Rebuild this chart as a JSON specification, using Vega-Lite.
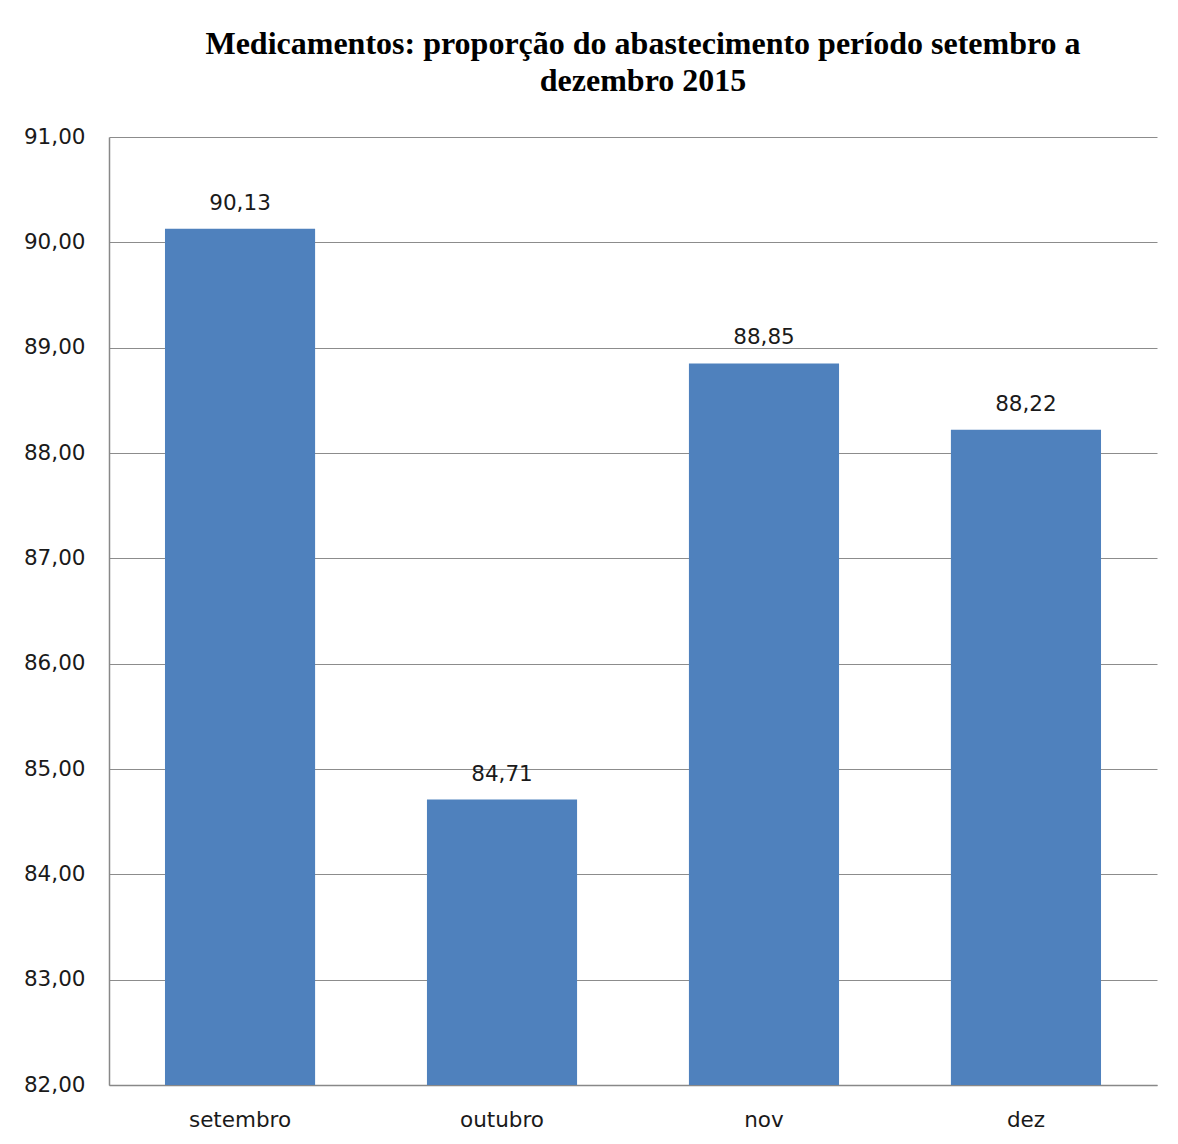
{
  "$schema": "https://vega.github.io/schema/vega-lite/v6.json",
  "width": 1048,
  "height": 948,
  "autosize": {"type": "none"},
  "padding": {"left": 109, "top": 137, "right": 21, "bottom": 59},
  "background": "white",
  "config": {
    "view": {"stroke": null},
    "locale": {"number": {"decimal": ",", "thousands": ".", "grouping": [3], "currency": ["R$", ""]}}
  },
  "title": {
    "text": ["Medicamentos: proporção do abastecimento período setembro a", "dezembro 2015"],
    "font": "Liberation Serif",
    "fontSize": 32,
    "fontWeight": "bold",
    "color": "black",
    "anchor": "middle",
    "frame": "group",
    "dx": 10,
    "offset": 28,
    "lineHeight": 37
  },
  "data": {
    "values": [
      {"mes": "setembro", "valor": 90.13},
      {"mes": "outubro", "valor": 84.71},
      {"mes": "nov", "valor": 88.85},
      {"mes": "dez", "valor": 88.22}
    ]
  },
  "encoding": {
    "x": {
      "field": "mes",
      "type": "nominal",
      "sort": null,
      "scale": {"paddingInner": 0.427, "paddingOuter": 0.2137},
      "axis": {
        "title": null,
        "labelAngle": 0,
        "labelFont": "DejaVu Sans",
        "labelFontSize": 21.5,
        "labelColor": "#1a1a1a",
        "labelPadding": 24,
        "ticks": false,
        "domainColor": "#888888",
        "domainWidth": 1.5,
        "grid": false
      }
    },
    "y": {
      "field": "valor",
      "type": "quantitative",
      "scale": {"domain": [82, 91], "zero": false, "nice": false},
      "axis": {
        "title": null,
        "values": [82, 83, 84, 85, 86, 87, 88, 89, 90, 91],
        "format": ".2f",
        "labelFont": "DejaVu Sans",
        "labelFontSize": 21.5,
        "labelColor": "#1a1a1a",
        "labelPadding": 24,
        "ticks": false,
        "domainColor": "#888888",
        "domainWidth": 1.5,
        "grid": true,
        "gridColor": "#8c8c8c",
        "gridWidth": 1
      }
    }
  },
  "layer": [
    {"mark": {"type": "bar", "color": "#4F81BD", "clip": true}},
    {
      "mark": {"type": "text", "font": "DejaVu Sans", "fontSize": 21.5, "color": "#1a1a1a", "baseline": "bottom", "dy": -14},
      "encoding": {"text": {"field": "valor", "type": "quantitative", "format": ".2f"}}
    }
  ]
}
